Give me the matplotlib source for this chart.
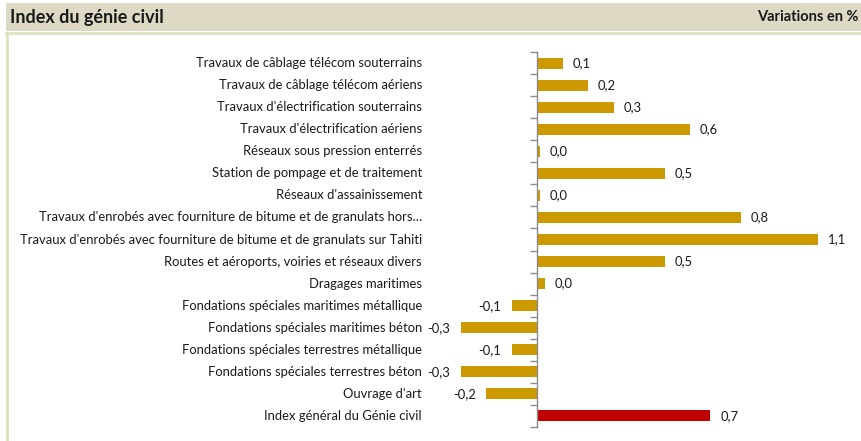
import numpy as np
import matplotlib.pyplot as plt
from matplotlib.patches import Rectangle
import matplotlib.transforms as mtransforms

plt.rcParams['font.family'] = ['Lato', 'DejaVu Sans']

# ---------- Data ------------------------------------------------------------------------------------------------------
categories = [
    "Travaux de câblage télécom souterrains",
    "Travaux de câblage télécom aériens",
    "Travaux d'électrification souterrains",
    "Travaux d'électrification aériens",
    "Réseaux sous pression enterrés",
    "Station de pompage et de traitement",
    "Réseaux d'assainissement",
    "Travaux d'enrobés avec fourniture de bitume et de granulats hors…",
    "Travaux d'enrobés avec fourniture de bitume et de granulats sur Tahiti",
    "Routes et aéroports, voiries et réseaux divers",
    "Dragages maritimes",
    "Fondations spéciales maritimes métallique",
    "Fondations spéciales maritimes béton",
    "Fondations spéciales terrestres métallique",
    "Fondations spéciales terrestres béton",
    "Ouvrage d'art",
    "Index général du Génie civil",
]
values = [0.10, 0.20, 0.30, 0.60, 0.01, 0.50, 0.01, 0.80, 1.10, 0.50, 0.03,
          -0.10, -0.30, -0.10, -0.30, -0.20, 0.68]

gold = '#CC9900'
red = '#C00000'
colors = [gold] * (len(values) - 1) + [red]

# ---------- Figure ----------------------------------------------------------------------------------------------------
W, H = 861, 441
fig = plt.figure(figsize=(W / 100, H / 100), dpi=100)

# header band and panel border
fig.patches.append(Rectangle((6 / W, 1 - 31 / H), 1, 28 / H, transform=fig.transFigure,
                             facecolor='#DDD9C4', edgecolor='none', zorder=0))
fig.add_artist(plt.Line2D([6 / W, 1], [1 - 32.5 / H] * 2, color='#D7E4BC', lw=2))
fig.add_artist(plt.Line2D([7 / W, 7 / W], [0, 1 - 32.5 / H], color='#D7E4BC', lw=2))
fig.text(10 / W, 1 - 17 / H, "Index du génie civil", fontsize=13, fontweight='bold',
         va='center', ha='left', color='#1a1a1a')
fig.text(859 / W, 1 - 17 / H, "Variations en %", fontsize=10.5, fontweight='bold',
         va='center', ha='right', color='#1a1a1a')

# axes: zero at x=537 px, 255 px per unit
ax_l, ax_r = 440, 850
ax_t, ax_b = 52, 427
ax = fig.add_axes([ax_l / W, 1 - ax_b / H, (ax_r - ax_l) / W, (ax_b - ax_t) / H])
scale = 255.0
ax.set_xlim(-(537 - ax_l) / scale, (ax_r - 537) / scale)
n = len(categories)
y = np.arange(n)
ax.set_ylim(n - 0.5, -0.5)

ax.barh(y, values, height=0.5, color=colors, zorder=2)

for sp in ['top', 'right', 'bottom']:
    ax.spines[sp].set_visible(False)
ax.spines['left'].set_position(('data', 0))
ax.spines['left'].set_color('#8c8c8c')
ax.spines['left'].set_linewidth(1)
ax.set_xticks([])
ax.set_yticks(np.arange(-0.5, n, 1))
ax.set_yticklabels([])
ax.tick_params(axis='y', direction='out', length=5, color='#8c8c8c', width=1)

# category labels at fixed position left of the axis
trans = mtransforms.blended_transform_factory(fig.transFigure, ax.transData)
for yi, cat in zip(y, categories):
    fig.text(422 / W, yi, cat, transform=trans, ha='right', va='center',
             fontsize=9.35, color='#1a1a1a')

# value labels
for yi, v in zip(y, values):
    lab = f"{v:.1f}".replace('.', ',')
    if lab == '-0,0':
        lab = '0,0'
    if v >= 0:
        ax.text(v + 10 / scale, yi, lab, ha='left', va='center', fontsize=9.35, color='#1a1a1a')
    else:
        ax.text(v - 10 / scale, yi, lab, ha='right', va='center', fontsize=9.35, color='#1a1a1a')

fig.savefig('out.png', dpi=100)
